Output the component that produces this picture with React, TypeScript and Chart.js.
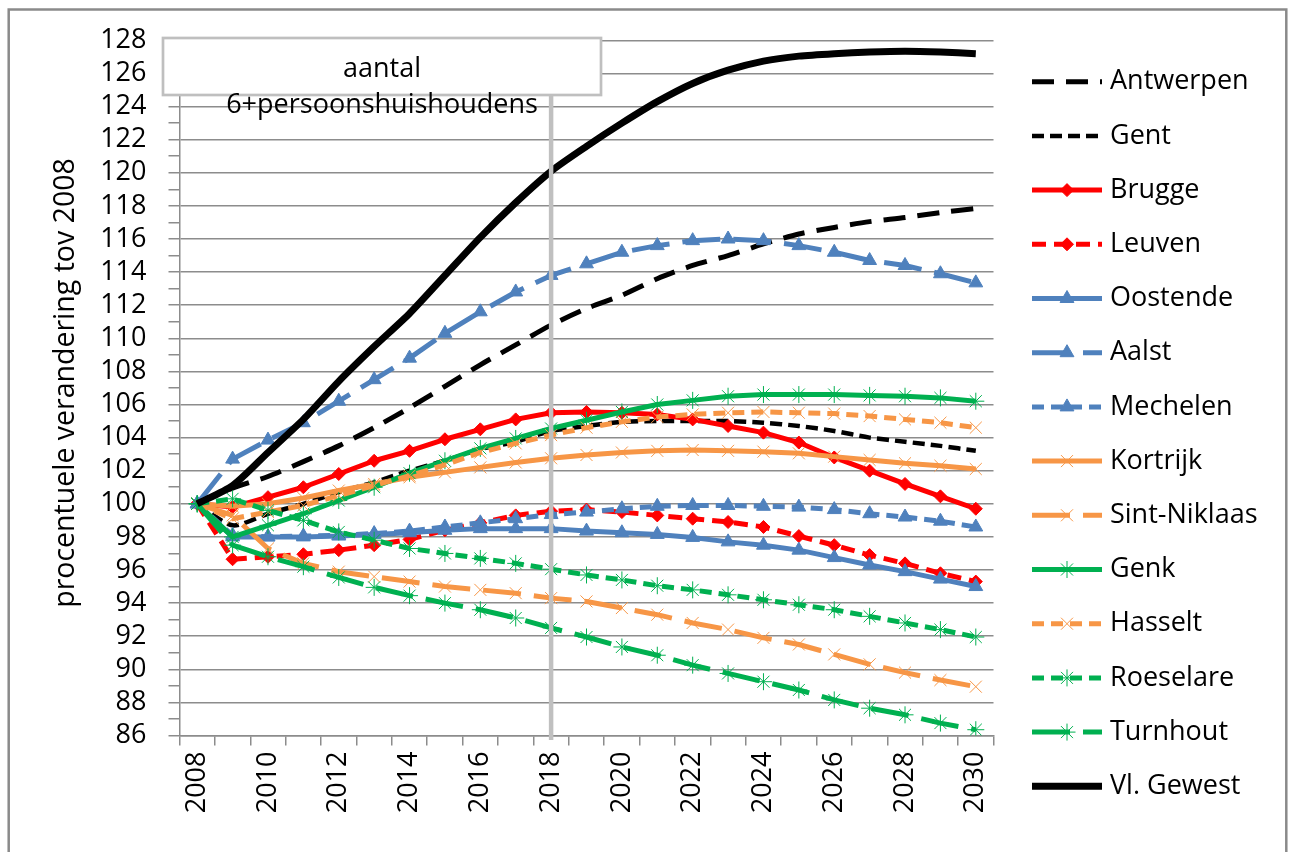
import React, { useEffect, useRef } from 'react';
import { Chart, registerables } from 'chart.js';

Chart.register(...registerables);

const years = ['2008', '2009', '2010', '2011', '2012', '2013', '2014', '2015', '2016', '2017', '2018', '2019', '2020', '2021', '2022', '2023', '2024', '2025', '2026', '2027', '2028', '2029', '2030'];

const antwerpen = [100, 100.95, 101.65, 102.55, 103.5, 104.6, 105.8, 107.1, 108.4, 109.6, 110.8, 111.8, 112.6, 113.6, 114.4, 115.0, 115.7, 116.3, 116.7, 117.05, 117.3, 117.6, 117.85];
const gent = [100, 98.7, 99.4, 100.0, 100.7, 101.3, 102.0, 102.6, 103.3, 103.75, 104.4, 104.7, 104.95, 105.0, 105.0, 105.0, 104.9, 104.7, 104.4, 104.0, 103.75, 103.5, 103.2];
const brugge = [100, 99.8, 100.4, 101.0, 101.8, 102.6, 103.2, 103.9, 104.5, 105.1, 105.5, 105.55, 105.5, 105.4, 105.1, 104.7, 104.3, 103.7, 102.8, 102.0, 101.2, 100.45, 99.7];
const leuven = [100, 96.65, 96.8, 96.95, 97.2, 97.5, 97.85, 98.4, 98.85, 99.3, 99.55, 99.65, 99.5, 99.3, 99.1, 98.9, 98.6, 98.05, 97.5, 96.9, 96.4, 95.8, 95.3];
const oostende = [100, 98.0, 98.0, 98.0, 98.05, 98.15, 98.25, 98.4, 98.5, 98.5, 98.5, 98.35, 98.25, 98.15, 97.97, 97.7, 97.5, 97.2, 96.75, 96.3, 95.9, 95.45, 95.0];
const aalst = [100, 102.7, 103.85, 104.9, 106.2, 107.5, 108.8, 110.3, 111.6, 112.8, 113.8, 114.5, 115.2, 115.6, 115.9, 116.0, 115.9, 115.6, 115.2, 114.7, 114.4, 113.9, 113.35];
const mechelen = [100, 98.1, 98.0, 98.05, 98.1, 98.2, 98.35, 98.6, 98.85, 99.1, 99.35, 99.5, 99.7, 99.85, 99.9, 99.9, 99.85, 99.8, 99.65, 99.4, 99.2, 98.95, 98.6];
const kortrijk = [100, 99.85, 100.0, 100.35, 100.8, 101.2, 101.6, 101.9, 102.2, 102.5, 102.75, 102.95, 103.1, 103.2, 103.25, 103.2, 103.15, 103.05, 102.85, 102.65, 102.45, 102.3, 102.1];
const sintNiklaas = [100, 99.3, 97.3, 96.4, 95.9, 95.6, 95.3, 95.0, 94.8, 94.6, 94.3, 94.1, 93.7, 93.3, 92.8, 92.4, 91.9, 91.5, 90.9, 90.3, 89.8, 89.35, 88.95];
const genk = [100, 98.0, 98.7, 99.4, 100.2, 101.0, 101.85, 102.6, 103.35, 103.95, 104.55, 105.05, 105.55, 106.0, 106.25, 106.5, 106.6, 106.6, 106.6, 106.55, 106.5, 106.4, 106.2];
const hasselt = [100, 99.1, 99.5, 99.9, 100.5, 101.1, 101.7, 102.35, 103.1, 103.65, 104.15, 104.6, 104.95, 105.25, 105.4, 105.5, 105.55, 105.5, 105.45, 105.3, 105.1, 104.9, 104.6];
const roeselare = [100, 100.3, 99.6, 99.0, 98.3, 97.8, 97.3, 97.0, 96.7, 96.4, 96.05, 95.7, 95.4, 95.05, 94.8, 94.5, 94.2, 93.9, 93.6, 93.2, 92.8, 92.4, 91.95];
const turnhout = [100, 97.5, 96.8, 96.2, 95.55, 94.95, 94.45, 94.0, 93.6, 93.1, 92.5, 91.95, 91.35, 90.85, 90.25, 89.75, 89.25, 88.75, 88.15, 87.65, 87.25, 86.75, 86.35];
const vlGewest = [100, 101.1, 103.1, 105.1, 107.4, 109.5, 111.5, 113.8, 116.1, 118.2, 120.1, 121.6, 123.0, 124.3, 125.4, 126.2, 126.75, 127.05, 127.2, 127.3, 127.35, 127.3, 127.2];

const yMin = 86;
const yMax = 128;
const titleLines = ['aantal', '6+persoonshuishoudens'];
const yTitle = 'procentuele verandering tov 2008';

const RED = '#FF0000';
const BLUE = '#4F81BD';
const ORANGE = '#F79646';
const GREEN = '#00B050';
const BLACK = '#000000';

type Style = { label: string; data: number[]; color: string; width: number; dash: number[]; marker: string | null; r: number };

const series: Style[] = [
  { label: 'Antwerpen', data: antwerpen, color: BLACK, width: 5, dash: [22, 12], marker: null, r: 0 },
  { label: 'Gent', data: gent, color: BLACK, width: 4.5, dash: [12, 6], marker: null, r: 0 },
  { label: 'Brugge', data: brugge, color: RED, width: 5, dash: [], marker: 'rectRot', r: 6.5 },
  { label: 'Leuven', data: leuven, color: RED, width: 5, dash: [14, 8], marker: 'rectRot', r: 6.5 },
  { label: 'Oostende', data: oostende, color: BLUE, width: 5, dash: [], marker: 'triangle', r: 8 },
  { label: 'Aalst', data: aalst, color: BLUE, width: 5, dash: [38, 13], marker: 'triangle', r: 8 },
  { label: 'Mechelen', data: mechelen, color: BLUE, width: 5, dash: [12, 7], marker: 'triangle', r: 8 },
  { label: 'Kortrijk', data: kortrijk, color: ORANGE, width: 5, dash: [], marker: 'crossRot', r: 8.5 },
  { label: 'Sint-Niklaas', data: sintNiklaas, color: ORANGE, width: 5, dash: [38, 13], marker: 'crossRot', r: 8.5 },
  { label: 'Genk', data: genk, color: GREEN, width: 5, dash: [], marker: 'star', r: 8.5 },
  { label: 'Hasselt', data: hasselt, color: ORANGE, width: 5, dash: [12, 7], marker: 'crossRot', r: 8.5 },
  { label: 'Roeselare', data: roeselare, color: GREEN, width: 5, dash: [12, 7], marker: 'star', r: 8.5 },
  { label: 'Turnhout', data: turnhout, color: GREEN, width: 5, dash: [38, 13], marker: 'star', r: 8.5 },
  { label: 'Vl. Gewest', data: vlGewest, color: BLACK, width: 7, dash: [], marker: null, r: 0 },
];

const FONT_FAMILY = '"Open Sans", "Noto Sans", sans-serif';
const GRID = '#8C8C8C';

function drawMarker(ctx: CanvasRenderingContext2D, style: string, x: number, y: number, r: number, color: string) {
  ctx.save();
  ctx.setLineDash([]);
  ctx.strokeStyle = color;
  ctx.fillStyle = color;
  ctx.lineWidth = 1;
  ctx.beginPath();
  if (style === 'rectRot') {
    ctx.moveTo(x, y - r);
    ctx.lineTo(x + r, y);
    ctx.lineTo(x, y + r);
    ctx.lineTo(x - r, y);
    ctx.closePath();
    ctx.fill();
    ctx.stroke();
  } else if (style === 'triangle') {
    let rad = 0;
    ctx.moveTo(x + Math.sin(rad) * r, y - Math.cos(rad) * r);
    rad += (2 * Math.PI) / 3;
    ctx.lineTo(x + Math.sin(rad) * r, y - Math.cos(rad) * r);
    rad += (2 * Math.PI) / 3;
    ctx.lineTo(x + Math.sin(rad) * r, y - Math.cos(rad) * r);
    ctx.closePath();
    ctx.fill();
    ctx.stroke();
  } else if (style === 'crossRot' || style === 'star') {
    const d = r * Math.SQRT1_2;
    ctx.moveTo(x - d, y - d);
    ctx.lineTo(x + d, y + d);
    ctx.moveTo(x - d, y + d);
    ctx.lineTo(x + d, y - d);
    if (style === 'star') {
      ctx.moveTo(x, y - r);
      ctx.lineTo(x, y + r);
      ctx.moveTo(x - r, y);
      ctx.lineTo(x + r, y);
    }
    ctx.stroke();
  }
  ctx.restore();
}

const decorPlugin = {
  id: 'decor',
  afterDatasetsDraw(chart: any) {
    const ctx: CanvasRenderingContext2D = chart.ctx;
    const xs = chart.scales.x;
    const area = chart.chartArea;
    ctx.save();
    // vertical marker line at 2018
    const vx = xs.getPixelForValue(years.indexOf('2018'));
    ctx.strokeStyle = '#C0C0C0';
    ctx.lineWidth = 4.5;
    ctx.beginPath();
    ctx.moveTo(vx, 93);
    ctx.lineTo(vx, area.bottom + 4.5);
    ctx.stroke();
    // title box
    ctx.fillStyle = '#FFFFFF';
    ctx.fillRect(163, 38, 438, 57);
    ctx.strokeStyle = '#BFBFBF';
    ctx.lineWidth = 2.7;
    ctx.strokeRect(163, 38, 438, 57);
    ctx.fillStyle = '#000000';
    ctx.font = `27px ${FONT_FAMILY}`;
    ctx.textAlign = 'center';
    ctx.textBaseline = 'alphabetic';
    ctx.fillText(titleLines[0], 382, 77);
    ctx.fillText(titleLines[1], 382, 113);
    ctx.restore();
  },
  afterDraw(chart: any) {
    const ctx: CanvasRenderingContext2D = chart.ctx;
    ctx.save();
    // y axis title
    ctx.fillStyle = '#000000';
    ctx.font = `28.5px ${FONT_FAMILY}`;
    ctx.translate(66, 383);
    ctx.rotate(-Math.PI / 2);
    ctx.textAlign = 'center';
    ctx.textBaseline = 'middle';
    ctx.fillText(yTitle, 0, 0);
    ctx.restore();

    // legend
    ctx.save();
    chart.data.datasets.forEach((ds: any, i: number) => {
      const st = series[i];
      const y = 81.7 + 54.2 * i;
      ctx.save();
      ctx.strokeStyle = st.color;
      ctx.lineWidth = st.width;
      ctx.lineCap = 'butt';
      ctx.setLineDash(st.dash);
      ctx.beginPath();
      ctx.moveTo(1032, y);
      ctx.lineTo(1102, y);
      ctx.stroke();
      ctx.restore();
      if (st.marker) drawMarker(ctx, st.marker, 1067, y, st.r, st.color);
      ctx.fillStyle = '#000000';
      ctx.font = `27px ${FONT_FAMILY}`;
      ctx.textAlign = 'left';
      ctx.textBaseline = 'middle';
      ctx.fillText(ds.label, 1110, y);
    });
    ctx.restore();

    // outer frame
    ctx.save();
    ctx.strokeStyle = '#8A8A8A';
    ctx.lineWidth = 2.5;
    ctx.beginPath();
    ctx.moveTo(8.7, 860);
    ctx.lineTo(8.7, 9.5);
    ctx.lineTo(1286.3, 9.5);
    ctx.lineTo(1286.3, 860);
    ctx.stroke();
    ctx.restore();
  },
};

export default function App() {
  const ref = useRef<HTMLCanvasElement | null>(null);

  useEffect(() => {
    if (!ref.current) return;
    const datasets = series.map((s, i) => ({
      label: s.label,
      data: s.data,
      borderColor: s.color,
      backgroundColor: s.color,
      borderWidth: s.width,
      borderDash: s.dash,
      borderCapStyle: 'butt',
      borderJoinStyle: 'round',
      pointStyle: s.marker || 'circle',
      pointRadius: s.marker ? s.r : 0,
      pointHoverRadius: s.marker ? s.r : 0,
      pointBorderWidth: 1,
      pointBackgroundColor: s.color,
      pointBorderColor: s.color,
      tension: s.marker ? 0 : 0.25,
      fill: false,
      order: -i,
    }));

    const chart = new Chart(ref.current, {
      type: 'line',
      data: { labels: years, datasets: datasets as any },
      plugins: [decorPlugin],
      options: {
        animation: false,
        responsive: false,
        devicePixelRatio: 1,
        layout: { padding: { top: 40.4, right: 297.5, left: 0, bottom: 0 } },
        plugins: {
          legend: { display: false },
          tooltip: { enabled: false },
          title: { display: false },
        },
        scales: {
          x: {
            type: 'category',
            offset: true,
            grid: {
              display: true,
              offset: true,
              drawOnChartArea: false,
              drawTicks: true,
              tickLength: 10,
              color: GRID,
              lineWidth: 1.5,
            },
            border: { display: true, color: GRID, width: 1.5 },
            ticks: {
              autoSkip: false,
              minRotation: 90,
              maxRotation: 90,
              padding: 6,
              color: '#000000',
              font: { family: FONT_FAMILY, size: 27 },
              callback: (_v: any, idx: number) => (idx % 2 === 0 ? years[idx] : ''),
            },
            afterFit: (scale: any) => {
              scale.height = 116.5;
            },
          },
          y: {
            type: 'linear',
            min: yMin,
            max: yMax,
            grid: {
              display: true,
              drawTicks: true,
              tickLength: 11,
              lineWidth: 1.5,
              color: (c: any) => (c.tick && Math.round(c.tick.value) % 2 === 0 ? GRID : 'rgba(0,0,0,0)'),
              tickColor: GRID,
            },
            border: { display: true, color: GRID, width: 1.5 },
            ticks: {
              stepSize: 1,
              autoSkip: false,
              padding: 22,
              color: '#000000',
              font: { family: FONT_FAMILY, size: 27 },
              callback: (v: any) => (Math.round(v) % 2 === 0 ? String(v) : ''),
            },
            afterFit: (scale: any) => {
              scale.width = 179.5;
            },
          },
        },
      } as any,
    });
    return () => chart.destroy();
  }, []);

  return (
    <div style={{ position: 'fixed', left: 0, top: 0, width: 1291, height: 852, background: '#FFFFFF' }}>
      <canvas ref={ref} width={1291} height={852} style={{ display: 'block' }} />
    </div>
  );
}
